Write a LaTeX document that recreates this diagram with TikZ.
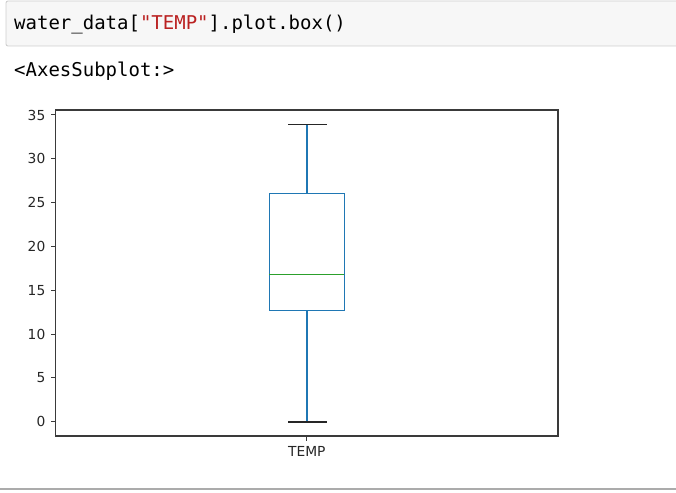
\documentclass[tikz,border=0pt]{standalone}
\usepackage{fontspec}
\setmainfont{DejaVu Sans}
\newfontfamily\codefont{DejaVu Sans Mono}
\definecolor{cellbg}{HTML}{F7F7F7}
\definecolor{cellborder}{HTML}{CFCFCF}
\definecolor{strred}{HTML}{BA2121}
\definecolor{mplblue}{HTML}{1F77B4}
\definecolor{mplgreen}{HTML}{2CA02C}
\definecolor{spine}{HTML}{3A3A3A}
\definecolor{ticklab}{HTML}{262626}
\definecolor{sepline}{HTML}{ABABAB}
\tikzset{
  codetext/.style={inner sep=0pt, anchor=base west, font=\codefont\fontsize{19}{22}\selectfont},
  ticklabel/.style={inner sep=0pt, anchor=east, text=ticklab, font=\fontsize{13.8}{16}\selectfont},
  tickmark/.style={spine, line width=1pt},
  boxline/.style={mplblue, line width=1.6pt},
  capline/.style={black!85, line width=1.6pt},
  medianline/.style={mplgreen, line width=1.6pt},
}
\begin{document}
\begin{tikzpicture}[x=1pt,y=-1pt]
\useasboundingbox (0,0) rectangle (676,492);
% code cell
\draw[cellborder, fill=cellbg, line width=0.9pt, rounded corners=2pt] (6,1) rectangle (690,46);
\node[codetext] (code) at (14,30) {water\_data[\textcolor{strred}{"TEMP"}].plot.box()};
\node[codetext] (out) at (14,77) {<AxesSubplot:>};
% axes
\coordinate (bl) at (55.7,436);
\coordinate (tr) at (558,110);
\draw[spine, line width=1.3pt] (bl) rectangle (tr);
% y ticks: value v at y = 421.7 - 8.763 v
\foreach \v in {0,5,...,35}{
  \pgfmathsetmacro{\yy}{421.7-8.763*\v}
  \draw[tickmark] (51.2,\yy) -- (55.7,\yy);
  \node[ticklabel] (yl\v) at (45.5,\yy) {\v};
}
% x tick
\draw[tickmark] (306.8,436) -- (306.8,440.5);
\node[inner sep=0pt, anchor=north, text=ticklab, font=\fontsize{13.8}{16}\selectfont] (xl) at (306.8,446.5) {TEMP};
% box plot
\draw[boxline] (269.3,193.3) rectangle (344.3,310.3);
\draw[boxline] (306.8,193.3) -- (306.8,124.3);
\draw[boxline] (306.8,310.3) -- (306.8,421.7);
\draw[capline] (288.3,124.3) -- (326.7,124.3);
\draw[capline] (288.3,421.7) -- (326.7,421.7);
\draw[medianline] (269.3,274.3) -- (344.3,274.3);
% separator
\draw[sepline, line width=1.2pt] (0,489) -- (676,489);
\end{tikzpicture}
\end{document}
